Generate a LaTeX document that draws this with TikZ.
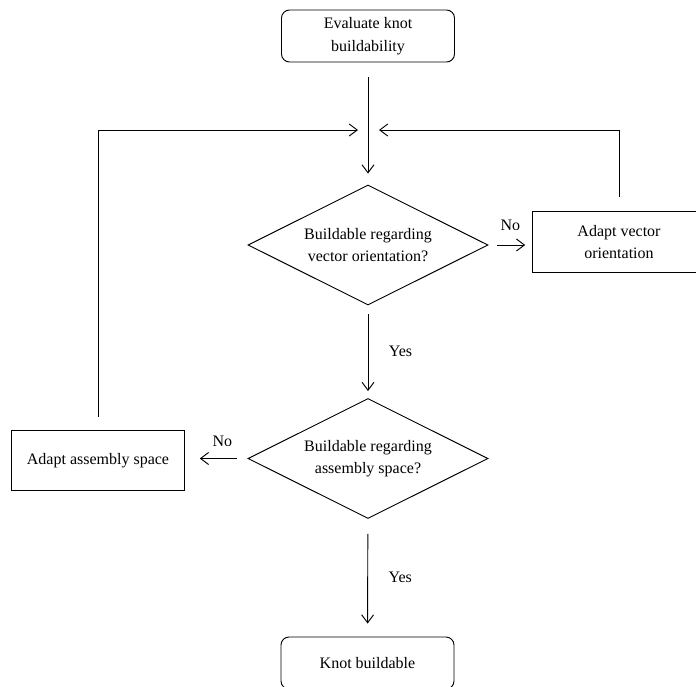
\documentclass[tikz,border=0pt]{standalone}
\usepackage{fontspec}
\setmainfont{Liberation Serif}
\usetikzlibrary{shapes.geometric,arrows.meta}

\begin{document}
\begin{tikzpicture}[x=0.75pt,y=-0.75pt,line width=0.7pt,
  every node/.style={font=\fontsize{12}{17}\selectfont, align=center},
  startstop/.style={draw, rounded corners=6pt, minimum width=129.75pt, minimum height=39pt},
  process/.style={draw, minimum width=129.5pt, minimum height=45.5pt},
  decision/.style={draw, diamond, shape aspect=2, inner sep=0pt, minimum width=180pt, minimum height=90pt},
  flow/.style={draw, -{Straight Barb[length=6pt,width=9pt]}}]
\useasboundingbox (0,0) rectangle (696,686);
\node[startstop] (eval) at (368,36) {Evaluate knot\\buildability};
\node[decision] (q1) at (368,245) {Buildable regarding\\vector orientation?};
\node[process] (vec) at (619,242) {Adapt vector\\orientation};
\node[decision] (q2) at (368,458.5) {Buildable regarding\\assembly space?};
\node[process] (space) at (98,460.5) {Adapt assembly space};
\node[startstop] (done) at (367.5,663) {Knot buildable};
\coordinate (join) at (368,130);
\draw[flow, shorten <=11.25pt, shorten >=8.25pt] (eval) -- (q1);
\draw[flow, shorten <=9.75pt, shorten >=7.5pt] (space) |- (join);
\draw[flow, shorten <=10.5pt, shorten >=8.25pt] (vec) |- (join);
\draw[flow, shorten <=6.75pt, shorten >=5.25pt] (q1.east) -- node[above=7pt] {No} (q1.east -| vec.west);
\draw[flow, shorten <=6.75pt, shorten >=5.25pt] (q1) -- node[right=12pt] {Yes} (q2);
\draw[flow, shorten <=8.25pt, shorten >=11.25pt] (q2.west) -- node[above=5pt, pos=0.4] {No} (q2.west -| space.east);
\draw[flow, shorten <=11.25pt, shorten >=9.75pt] (q2) -- node[right=12pt] {Yes} (done);
\end{tikzpicture}
\end{document}
